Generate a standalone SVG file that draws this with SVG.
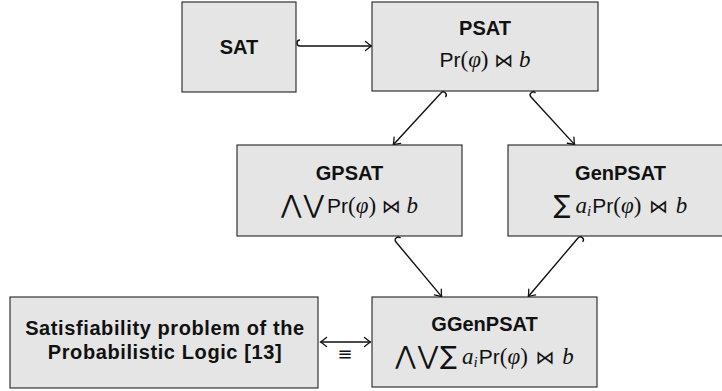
<svg xmlns="http://www.w3.org/2000/svg" width="722" height="391" viewBox="0 0 722 391">
<style>
.box{fill:#e5e5e5;stroke:#222;stroke-width:1.1}
.t{font-family:"Liberation Sans",Arial,sans-serif;font-weight:bold;font-size:20px;fill:#111;text-anchor:middle}
.wide{letter-spacing:0.6px}
.m{font-family:"Liberation Serif","DejaVu Serif",serif;font-size:23px;fill:#111;text-anchor:middle}
.sf{font-family:"Liberation Sans",Arial,sans-serif;font-size:21px}
.it{font-style:italic}
.dj{font-family:"DejaVu Sans",sans-serif;font-size:19px}
.big{font-family:"DejaVu Sans",sans-serif;font-size:25px}
.c{fill:none;stroke:#111;stroke-width:1.4}
</style>
<defs>
<marker id="to" markerUnits="userSpaceOnUse" markerWidth="12" markerHeight="12" viewBox="-7 -6 8 12" refX="0" refY="0" orient="auto-start-reverse">
<path d="M-6,-4.5 Q-2,-1.2 0,0 Q-2,1.2 -6,4.5" fill="none" stroke="#111" stroke-width="1.3" stroke-linecap="round"/>
</marker>
</defs>

<g id="connectors">
<path class="c" d="M300,40 A3,3 0 0 0 300,46 L371.5,46" marker-end="url(#to)"/>
<path class="c" transform="translate(441,93) rotate(132.7)" d="M0,-6 A3,3 0 0 0 0,0 L70.3,0" marker-end="url(#to)"/>
<path class="c" transform="translate(531,97) rotate(47.5)" d="M0,-6 A3,3 0 0 0 0,0 L64.6,0" marker-end="url(#to)"/>
<path class="c" transform="translate(396,242) rotate(50.1)" d="M0,-6 A3,3 0 0 0 0,0 L71.2,0" marker-end="url(#to)"/>
<path class="c" transform="translate(578,238) rotate(130.3)" d="M0,-6 A3,3 0 0 0 0,0 L76.8,0" marker-end="url(#to)"/>
<path class="c" d="M320.5,342 L370.5,342" marker-start="url(#to)" marker-end="url(#to)"/>
<text x="345" y="360" font-family="DejaVu Sans,sans-serif" font-size="18" fill="#111" text-anchor="middle">≡</text>
</g>

<g id="sat">
<rect class="box" x="182" y="2" width="114" height="90"/>
<text class="t" x="239" y="54">SAT</text>
</g>

<g id="psat">
<rect class="box" x="372" y="2" width="226" height="89"/>
<text class="t" x="485" y="35">PSAT</text>
<text class="m" x="485" y="67"><tspan class="sf">Pr</tspan>(<tspan class="it">φ</tspan>) <tspan class="dj">⋈</tspan> <tspan class="it">b</tspan></text>
</g>

<g id="gpsat">
<rect class="box" x="237" y="145" width="225" height="91"/>
<text class="t" x="349.5" y="180">GPSAT</text>
<text class="m" x="349.5" y="213"><tspan class="big">⋀</tspan><tspan class="big" dx="2">⋁</tspan><tspan class="sf" dx="3">Pr</tspan>(<tspan class="it">φ</tspan>) <tspan class="dj">⋈</tspan> <tspan class="it">b</tspan></text>
</g>

<g id="genpsat">
<rect class="box" x="508" y="145" width="225" height="91"/>
<text class="t" x="620.5" y="180">GenPSAT</text>
<text class="m" x="620.5" y="213"><tspan class="big">∑</tspan><tspan class="it" dx="5">a</tspan><tspan class="it" font-size="15" dy="3">i</tspan><tspan class="sf" dx="1" dy="-3">Pr</tspan>(<tspan class="it">φ</tspan>)<tspan dx="2"> </tspan><tspan class="dj">⋈</tspan><tspan dx="2"> </tspan><tspan class="it">b</tspan></text>
</g>

<g id="sat-pl">
<rect class="box" x="10" y="297" width="308" height="91"/>
<text class="t wide" x="165" y="335">Satisfiability problem of the</text>
<text class="t wide" x="165" y="359">Probabilistic Logic [13]</text>
</g>

<g id="ggenpsat">
<rect class="box" x="372" y="297" width="225" height="90"/>
<text class="t" x="484.5" y="331">GGenPSAT</text>
<text class="m" x="484.5" y="364"><tspan class="big">⋀</tspan><tspan class="big" dx="2">⋁</tspan><tspan class="big" dx="2">∑</tspan><tspan class="it" dx="5">a</tspan><tspan class="it" font-size="15" dy="3">i</tspan><tspan class="sf" dx="1" dy="-3">Pr</tspan>(<tspan class="it">φ</tspan>)<tspan dx="2"> </tspan><tspan class="dj">⋈</tspan><tspan dx="2"> </tspan><tspan class="it">b</tspan></text>
</g>
</svg>
